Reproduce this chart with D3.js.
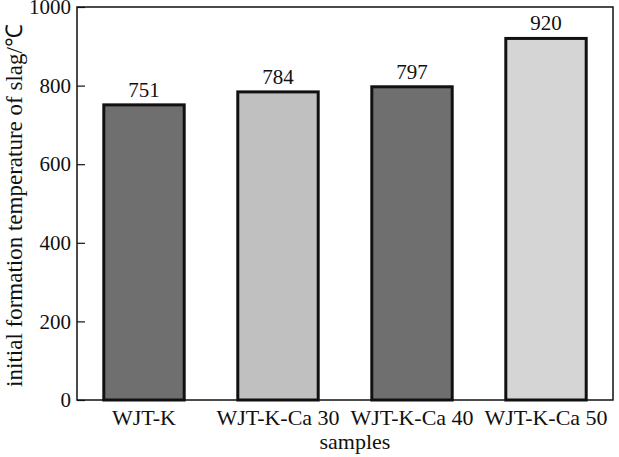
<!DOCTYPE html>
<html><head><meta charset="utf-8">
<script src="https://cdn.jsdelivr.net/npm/d3@7"></script>
<style>body{margin:0;background:#fff}svg{display:block}text{font-family:'Liberation Serif','Times New Roman',serif;fill:#111}</style>
</head><body>
<svg id="c" width="619" height="457"></svg>
<script>
const categories = ["WJT-K", "WJT-K-Ca 30", "WJT-K-Ca 40", "WJT-K-Ca 50"];
const values = [751, 784, 797, 920];
const barColors = ["#6f6f6f", "#c0c0c0", "#6f6f6f", "#d5d5d5"];
const yTicks = [0, 200, 400, 600, 800, 1000];
const yTitle = "initial formation temperature of slag/℃";
const xTitle = "samples";

const m = {l: 77, r: 6, t: 7, b: 57};
const W = 619, H = 457;
const svg = d3.select("#c");
const font = "'Liberation Serif','Times New Roman',serif";

const x = d3.scaleBand().domain(categories).range([m.l, W - m.r]).paddingInner(0.4).paddingOuter(0.2);
const y = d3.scaleLinear().domain([0, 1000]).range([H - m.b, m.t]);

// bars
svg.append("g").selectAll("rect").data(values).join("rect")
  .attr("x", (d, i) => x(categories[i]))
  .attr("y", d => y(d))
  .attr("width", x.bandwidth())
  .attr("height", d => y(0) - y(d))
  .attr("fill", (d, i) => barColors[i])
  .attr("stroke", "#111").attr("stroke-width", 3);

// value labels
svg.append("g").selectAll("text").data(values).join("text")
  .attr("x", (d, i) => x(categories[i]) + x.bandwidth() / 2)
  .attr("y", d => y(d) - 8)
  .attr("text-anchor", "middle")
  .style("font-family", font).style("font-size", "21px")
  .text(d => d);

// frame
svg.append("rect").attr("x", m.l).attr("y", m.t)
  .attr("width", W - m.r - m.l).attr("height", H - m.b - m.t)
  .attr("fill", "none").attr("stroke", "#111").attr("stroke-width", 1.5);

// y axis
const ya = svg.append("g").attr("transform", `translate(${m.l},0)`)
  .call(d3.axisLeft(y).tickValues(yTicks).tickFormat(d3.format("d")).tickSizeInner(-8).tickSizeOuter(0).tickPadding(6));
ya.attr("font-family", null).attr("font-size", null);
ya.select(".domain").remove();
ya.selectAll("line").attr("stroke", "#111").attr("stroke-width", 1.2);
ya.selectAll("text").style("font-family", font).style("font-size", "21px").style("fill", "#111")
  .attr("x", -6);

// x axis
const xa = svg.append("g").attr("transform", `translate(0,${H - m.b})`)
  .call(d3.axisBottom(x).tickSize(0).tickPadding(7));
xa.attr("font-family", null).attr("font-size", null);
xa.select(".domain").remove();
xa.selectAll("text").style("font-family", font).style("font-size", "22px").style("fill", "#111")
  .attr("dy", "0.8em");

// titles
svg.append("text").attr("x", 355).attr("y", 449).attr("text-anchor", "middle")
  .style("font-family", font).style("font-size", "22px").text(xTitle);
svg.append("text").attr("transform", `translate(22,${(m.t + H - m.b) / 2 + 2}) rotate(-90)`)
  .attr("text-anchor", "middle")
  .style("font-family", font).style("font-size", "23px").text(yTitle);
</script>
</body></html>
